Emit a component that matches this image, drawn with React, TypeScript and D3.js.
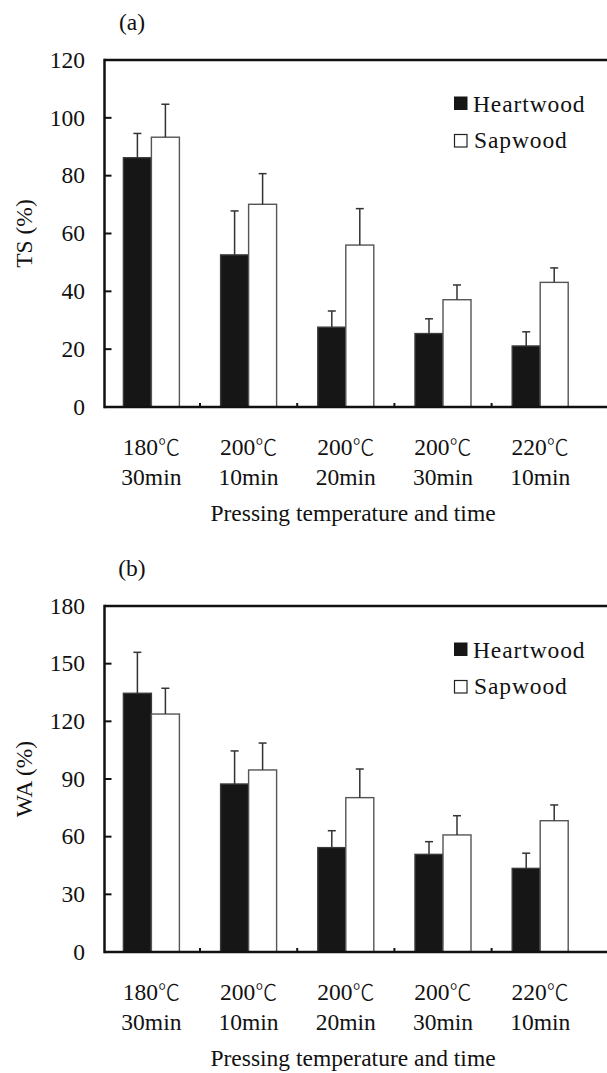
import { scaleBand, scaleLinear, range } from "d3";

const width = 607;
const height = 1073;
const FONT = "'Liberation Serif', 'Times New Roman', serif";
const CJK = "'Noto Sans CJK SC', 'Noto Sans CJK JP', sans-serif";
const FS = 23.5;

// categories
const temps = ["180", "200", "200", "200", "220"];
const times = ["30min", "10min", "20min", "30min", "10min"];
const seriesNames = ["Heartwood", "Sapwood"];

// (a) thickness swelling
const tsHeart = [86.2, 52.6, 27.6, 25.4, 21.1];
const tsHeartErr = [8.4, 15.2, 5.6, 5.1, 4.9];
const tsSap = [93.3, 70.1, 56.0, 37.1, 43.1];
const tsSapErr = [11.4, 10.6, 12.6, 5.1, 5.0];
const tsTicks = [0, 20, 40, 60, 80, 100, 120];

// (b) water absorption
const waHeart = [134.6, 87.4, 54.3, 50.8, 43.5];
const waHeartErr = [21.3, 17.2, 8.8, 6.6, 7.9];
const waSap = [123.8, 94.7, 80.3, 60.9, 68.3];
const waSapErr = [13.4, 14.0, 14.9, 10.0, 8.2];
const waTicks = [0, 30, 60, 90, 120, 150, 180];

const AXIS_X = 104.5;

function Panel({ top, bottom, ticks, yLabel, letter, heart, heartErr, sap, sapErr }) {
  const yMax = ticks[ticks.length - 1];
  const y = scaleLinear().domain([0, yMax]).range([bottom, top]);
  const keys = range(temps.length).map(String);
  const x = scaleBand().domain(keys).range([102.8, 588.8]);
  const bw = x.bandwidth();
  const inner = scaleBand()
    .domain(seriesNames)
    .range([0, bw])
    .paddingInner(0)
    .paddingOuter((bw / 28 - 2) / 2);

  const series = [
    { name: "Heartwood", vals: heart, err: heartErr, fill: "#161616", stroke: "#3a3a3a" },
    { name: "Sapwood", vals: sap, err: sapErr, fill: "#ffffff", stroke: "#555" },
  ];

  return (
    <g fontFamily={FONT} fill="#111">
      <text x={132} y={top - 30} fontSize={FS} textAnchor="middle">{letter}</text>

      {/* bars */}
      {series.map((s) =>
        keys.map((k, i) => {
          const x0 = x(k) + inner(s.name);
          const w = inner.bandwidth();
          const yt = y(s.vals[i]);
          const ye = y(s.vals[i] + s.err[i]);
          const cx = x0 + w / 2;
          return (
            <g key={s.name + k}>
              <rect x={x0} y={yt} width={w} height={bottom - yt} fill={s.fill} stroke={s.stroke} strokeWidth={1.4} />
              <line x1={cx} x2={cx} y1={yt} y2={ye} stroke="#333" strokeWidth={1.5} />
              <line x1={cx - 4} x2={cx + 4} y1={ye} y2={ye} stroke="#333" strokeWidth={1.5} />
            </g>
          );
        })
      )}

      {/* frame */}
      <line x1={AXIS_X} x2={width} y1={top} y2={top} stroke="#111" strokeWidth={2.5} />
      <line x1={AXIS_X} x2={AXIS_X} y1={top - 1.2} y2={bottom + 1.2} stroke="#111" strokeWidth={2.5} />
      <line x1={AXIS_X} x2={width} y1={bottom} y2={bottom} stroke="#111" strokeWidth={2.5} />

      {/* y ticks */}
      {ticks.map((t) => (
        <g key={t}>
          {t !== 0 && t !== yMax && (
            <line x1={AXIS_X} x2={AXIS_X + 7} y1={y(t)} y2={y(t)} stroke="#111" strokeWidth={2} />
          )}
          <text x={85} y={y(t)} dy="0.33em" fontSize={FS} textAnchor="end">{t}</text>
        </g>
      ))}

      {/* x ticks between groups */}
      {keys.slice(1).map((k) => (
        <line key={k} x1={x(k)} x2={x(k)} y1={bottom} y2={bottom - 4} stroke="#111" strokeWidth={2} />
      ))}

      {/* x labels */}
      {keys.map((k, i) => (
        <g key={k}>
          <text x={x(k) + bw / 2} y={bottom + 48} fontSize={FS} textAnchor="middle">
            {temps[i]}
            <tspan fontFamily={CJK} fontSize={22} fontWeight={300}>℃</tspan>
          </text>
          <text x={x(k) + bw / 2} y={bottom + 78} fontSize={FS} textAnchor="middle">{times[i]}</text>
        </g>
      ))}
      <text x={353} y={bottom + 114} fontSize={FS} textAnchor="middle">Pressing temperature and time</text>

      <text transform={`translate(32,${(top + bottom) / 2}) rotate(-90)`} fontSize={FS} textAnchor="middle">
        {yLabel}
      </text>

      {/* legend */}
      <g transform={`translate(454,${top + 37})`}>
        <rect x={0.5} y={0} width={12.5} height={12.5} fill="#161616" stroke="#161616" />
        <text x={19} y={14.5} fontSize={FS} letterSpacing={0.9}>Heartwood</text>
        <rect x={0.5} y={37.5} width={12.5} height={12.5} fill="#fff" stroke="#222" strokeWidth={1.2} />
        <text x={20} y={51} fontSize={FS} letterSpacing={0.9}>Sapwood</text>
      </g>
    </g>
  );
}

export default function App() {
  return (
    <svg
      width={width}
      height={height}
      viewBox={`0 0 ${width} ${height}`}
      style={{ position: "absolute", left: 0, top: 0, background: "#fff" }}
    >
      <rect width={width} height={height} fill="#fff" />
      <Panel top={60} bottom={407} ticks={tsTicks} yLabel="TS (%)" letter="(a)"
        heart={tsHeart} heartErr={tsHeartErr} sap={tsSap} sapErr={tsSapErr} />
      <Panel top={606} bottom={952} ticks={waTicks} yLabel="WA (%)" letter="(b)"
        heart={waHeart} heartErr={waHeartErr} sap={waSap} sapErr={waSapErr} />
    </svg>
  );
}
